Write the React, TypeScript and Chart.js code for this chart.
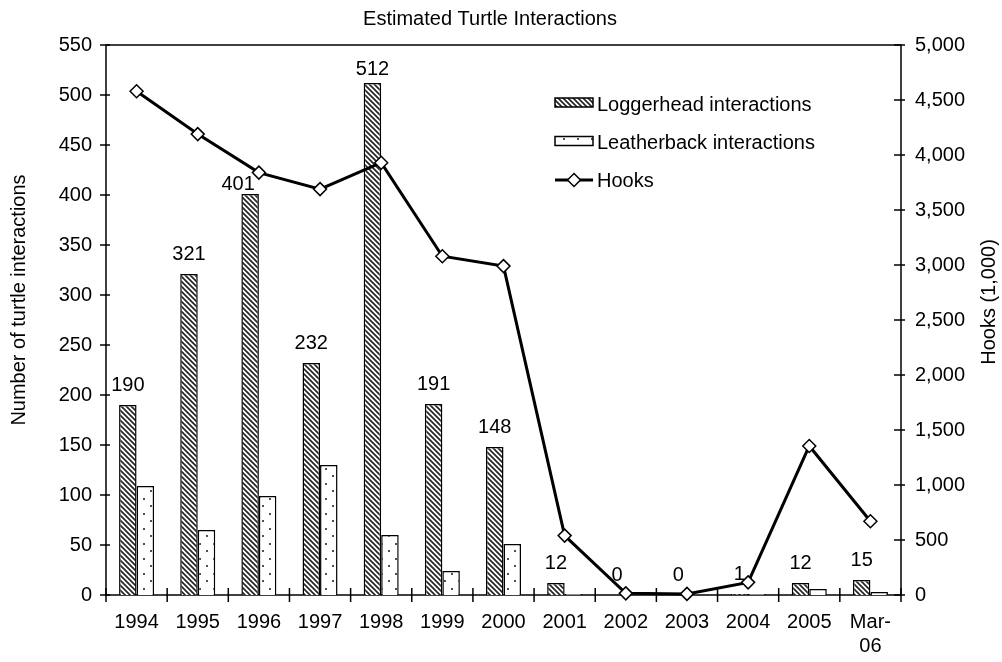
import React, { useEffect, useRef } from 'react';
import { Chart, registerables } from 'chart.js';

Chart.register(...registerables);

const categories = ['1994', '1995', '1996', '1997', '1998', '1999', '2000', '2001', '2002', '2003', '2004', '2005', 'Mar-06'];
const loggerhead = [190, 321, 401, 232, 512, 191, 148, 12, 0, 0, 1, 12, 15];
const leatherback = [109, 65, 99, 130, 60, 24, 51, 1, 1, 0, 1, 6, 3];
const hooks = [4580, 4190, 3840, 3690, 3930, 3080, 2990, 540, 15, 10, 115, 1355, 670];

const titleText = 'Estimated Turtle Interactions';
const leftAxisTitle = 'Number of turtle interactions';
const rightAxisTitle = 'Hooks (1,000)';
const legendLabels = ['Loggerhead interactions', 'Leatherback interactions', 'Hooks'];

const FONT = "'Liberation Sans', Arial, sans-serif";

function makeHatch(): CanvasPattern {
  const c = document.createElement('canvas');
  c.width = 5;
  c.height = 5;
  const g = c.getContext('2d')!;
  g.fillStyle = '#ffffff';
  g.fillRect(0, 0, 5, 5);
  g.strokeStyle = '#262626';
  g.lineWidth = 1.7;
  g.beginPath();
  g.moveTo(-1, -1); g.lineTo(6, 6);
  g.moveTo(-1, 4); g.lineTo(1, 6);
  g.moveTo(4, -1); g.lineTo(6, 1);
  g.stroke();
  return g.createPattern(c, 'repeat')!;
}

function makeDots(): CanvasPattern {
  const c = document.createElement('canvas');
  c.width = 14;
  c.height = 15;
  const g = c.getContext('2d')!;
  g.fillStyle = '#ffffff';
  g.fillRect(0, 0, 14, 15);
  g.fillStyle = '#505050';
  g.fillRect(3, 3, 2, 2);
  g.fillRect(10, 10, 2, 2);
  return g.createPattern(c, 'repeat')!;
}

// label nudges (pixels) for labels that the original moved by hand
const labelNudge: Record<number, [number, number]> = { 2: [-12, 10], 4: [0, 6] };

export default function App() {
  const ref = useRef<HTMLCanvasElement>(null);

  useEffect(() => {
    const canvas = ref.current!;
    const hatch = makeHatch();
    const dots = makeDots();

    const decor = {
      id: 'decor',
      beforeDatasetsDraw(chart: any) {
        const { ctx, chartArea: a } = chart;
        const y = chart.scales.y;
        const y1 = chart.scales.y1;
        const x = chart.scales.x;
        ctx.save();
        ctx.strokeStyle = '#000';
        ctx.lineWidth = 1.5;
        ctx.strokeRect(a.left, a.top, a.right - a.left, a.bottom - a.top);
        ctx.beginPath();
        y.ticks.forEach((t: any) => {
          const py = y.getPixelForValue(t.value);
          ctx.moveTo(a.left - 6, py);
          ctx.lineTo(a.left + 4, py);
        });
        y1.ticks.forEach((t: any) => {
          const py = y1.getPixelForValue(t.value);
          ctx.moveTo(a.right - 7, py);
          ctx.lineTo(a.right + 4, py);
        });
        for (let i = 0; i <= categories.length; i++) {
          let px: number;
          if (i === 0) px = a.left;
          else if (i === categories.length) px = a.right;
          else px = (x.getPixelForValue(i - 1) + x.getPixelForValue(i)) / 2;
          ctx.moveTo(px, a.bottom - 7);
          ctx.lineTo(px, a.bottom + 7);
        }
        ctx.stroke();
        ctx.restore();
      },
      afterDatasetsDraw(chart: any) {
        const { ctx } = chart;
        ctx.save();
        ctx.fillStyle = '#000';
        // data labels
        ctx.font = `20px ${FONT}`;
        ctx.textAlign = 'center';
        ctx.textBaseline = 'alphabetic';
        const meta = chart.getDatasetMeta(1);
        meta.data.forEach((bar: any, i: number) => {
          const n = labelNudge[i] || [0, 0];
          ctx.fillText(String(loggerhead[i]), bar.x + n[0], bar.y - 14 + n[1]);
        });
        // title
        ctx.font = `20px ${FONT}`;
        ctx.fillText(titleText, 490, 25);
        // axis titles
        ctx.font = `20px ${FONT}`;
        ctx.save();
        ctx.translate(25, 300);
        ctx.rotate(-Math.PI / 2);
        ctx.fillText(leftAxisTitle, 0, 0);
        ctx.restore();
        ctx.save();
        ctx.translate(995, 302);
        ctx.rotate(-Math.PI / 2);
        ctx.fillText(rightAxisTitle, 0, 0);
        ctx.restore();
        // legend
        ctx.textAlign = 'left';
        ctx.font = `20px ${FONT}`;
        ctx.lineWidth = 1.5;
        ctx.strokeStyle = '#000';
        ctx.fillStyle = hatch;
        ctx.fillRect(555, 98, 38, 9);
        ctx.strokeRect(555, 98, 38, 9);
        ctx.fillStyle = dots;
        ctx.fillRect(555, 136.5, 38, 9);
        ctx.strokeRect(555, 136.5, 38, 9);
        ctx.beginPath();
        ctx.lineWidth = 3;
        ctx.moveTo(555, 180);
        ctx.lineTo(593, 180);
        ctx.stroke();
        ctx.beginPath();
        ctx.lineWidth = 1.5;
        ctx.moveTo(574 - 6.5, 180);
        ctx.lineTo(574, 180 - 6.5);
        ctx.lineTo(574 + 6.5, 180);
        ctx.lineTo(574, 180 + 6.5);
        ctx.closePath();
        ctx.fillStyle = '#fff';
        ctx.fill();
        ctx.stroke();
        ctx.fillStyle = '#000';
        ctx.fillText(legendLabels[0], 597, 110.5);
        ctx.fillText(legendLabels[1], 597, 148.5);
        ctx.fillText(legendLabels[2], 597, 187);
        ctx.restore();
      },
    };

    const tickFont = { family: FONT, size: 20 };

    const chart = new Chart(canvas, {
      type: 'bar',
      data: {
        labels: categories,
        datasets: [
          {
            type: 'line',
            label: legendLabels[2],
            data: hooks,
            yAxisID: 'y1',
            order: 0,
            borderColor: '#000',
            borderWidth: 3,
            pointStyle: 'rectRot',
            pointRadius: 6.5,
            pointBackgroundColor: '#fff',
            pointBorderColor: '#000',
            pointBorderWidth: 1.5,
            tension: 0,
            clip: false,
          } as any,
          {
            label: legendLabels[0],
            data: loggerhead,
            yAxisID: 'y',
            order: 1,
            backgroundColor: hatch,
            borderColor: '#000',
            borderWidth: 1.5,
            categoryPercentage: 0.5725,
            barPercentage: 1,
          },
          {
            label: legendLabels[1],
            data: leatherback,
            yAxisID: 'y',
            order: 2,
            backgroundColor: dots,
            borderColor: '#000',
            borderWidth: 1.5,
            categoryPercentage: 0.5725,
            barPercentage: 1,
          },
        ],
      },
      options: {
        animation: false,
        responsive: false,
        devicePixelRatio: 1,
        layout: { padding: { top: 45, left: 0, right: 0, bottom: 0 } },
        plugins: {
          legend: { display: false },
          title: { display: false },
          tooltip: { enabled: false },
        },
        scales: {
          x: {
            grid: { display: false, drawTicks: false },
            border: { display: false },
            ticks: {
              font: tickFont,
              color: '#000',
              padding: 15,
              maxRotation: 0,
              autoSkip: false,
              callback: (_v: any, i: number) =>
                categories[i] === 'Mar-06' ? ['Mar-', '06'] : categories[i],
            },
            afterFit: (s: any) => { s.height = 67; },
          },
          y: {
            position: 'left',
            min: 0,
            max: 550,
            grid: { display: false, drawTicks: false },
            border: { display: false },
            ticks: { stepSize: 50, font: tickFont, color: '#000', padding: 14 },
            afterFit: (s: any) => { s.width = 106; },
          },
          y1: {
            position: 'right',
            min: 0,
            max: 5000,
            grid: { display: false, drawTicks: false },
            border: { display: false },
            ticks: {
              stepSize: 500,
              font: tickFont,
              color: '#000',
              padding: 14,
              callback: (v: any) => Number(v).toLocaleString('en-US'),
            },
            afterFit: (s: any) => { s.width = 101; },
          },
        },
      },
      plugins: [decor],
    });

    return () => chart.destroy();
  }, []);

  return (
    <div style={{ position: 'absolute', left: 0, top: 0, width: 1002, height: 662, background: '#fff' }}>
      <canvas ref={ref} width={1002} height={662} style={{ width: 1002, height: 662, display: 'block' }} />
    </div>
  );
}
